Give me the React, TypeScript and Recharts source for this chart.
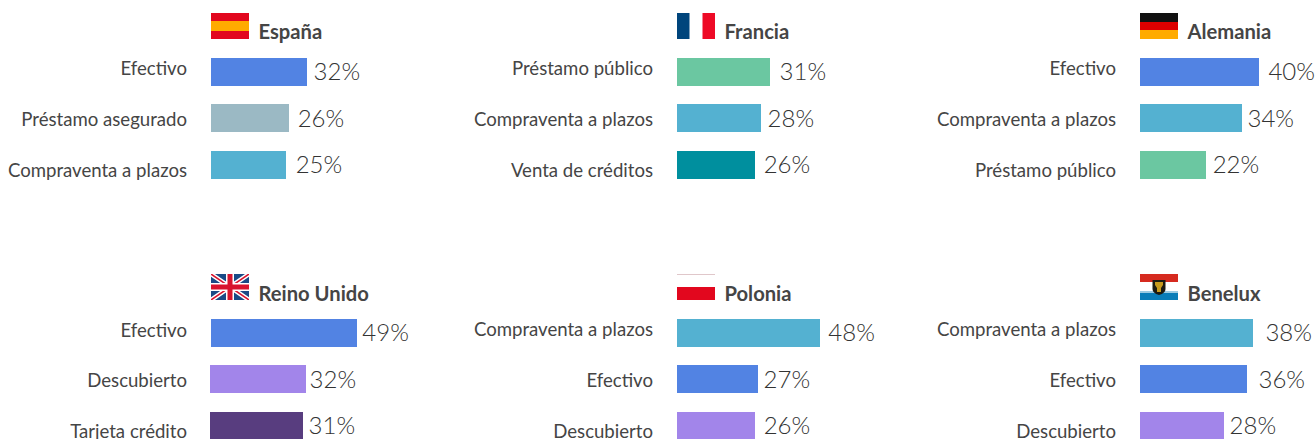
import React from "react";
import { BarChart, Bar, XAxis, YAxis, LabelList } from "recharts";

const espanaCategories = ["Efectivo", "Préstamo asegurado", "Compraventa a plazos"];
const espanaValues = [32, 26, 25];
const franciaCategories = ["Préstamo público", "Compraventa a plazos", "Venta de créditos"];
const franciaValues = [31, 28, 26];
const alemaniaCategories = ["Efectivo", "Compraventa a plazos", "Préstamo público"];
const alemaniaValues = [40, 34, 22];
const reinoUnidoCategories = ["Efectivo", "Descubierto", "Tarjeta crédito"];
const reinoUnidoValues = [49, 32, 31];
const poloniaCategories = ["Compraventa a plazos", "Efectivo", "Descubierto"];
const poloniaValues = [48, 27, 26];
const beneluxCategories = ["Compraventa a plazos", "Efectivo", "Descubierto"];
const beneluxValues = [38, 36, 28];

const categoryColors: Record<string, string> = {
  "Efectivo": "#5283E3",
  "Préstamo asegurado": "#9BB9C4",
  "Compraventa a plazos": "#54B1D1",
  "Préstamo público": "#6BC7A1",
  "Venta de créditos": "#008F9E",
  "Descubierto": "#A285EA",
  "Tarjeta crédito": "#583D7F",
};

const FONT = "Lato, sans-serif";
const TEXT = "#454545";
const VALUE_TEXT = "#333333";
const PLOT_WIDTH = 209;
const AXIS_WIDTH = 211;

type FlagKind = "es" | "fr" | "de" | "uk" | "pl" | "bnl";

const panels: {
  title: string; flag: FlagKind; categories: string[]; values: number[];
  left: number; top: number; titleDy: number; tickShift: number[]; gaps: number[]; barShift: number[];
}[] = [
  { title: "España", flag: "es", categories: espanaCategories, values: espanaValues, left: 0, top: 48, titleDy: 0, tickShift: [-4, 0.5, 5], gaps: [7, 9, 10], barShift: [0, 0, 0] },
  { title: "Francia", flag: "fr", categories: franciaCategories, values: franciaValues, left: 466, top: 48, titleDy: 0, tickShift: [-4, 0.5, 5], gaps: [10, 7, 9], barShift: [0, 0, 0] },
  { title: "Alemania", flag: "de", categories: alemaniaCategories, values: alemaniaValues, left: 929, top: 48, titleDy: 0, tickShift: [-4, 0.5, 5], gaps: [9, 6, 7], barShift: [0, 0, 0] },
  { title: "Reino Unido", flag: "uk", categories: reinoUnidoCategories, values: reinoUnidoValues, left: 0, top: 309, titleDy: 0.5, tickShift: [-3.5, 0.5, 5], gaps: [5, 4, 6], barShift: [0, -1, -1] },
  { title: "Polonia", flag: "pl", categories: poloniaCategories, values: poloniaValues, left: 466, top: 309, titleDy: 0.5, tickShift: [-4, 0.5, 5], gaps: [8, 6, 9], barShift: [0, 0, 0] },
  { title: "Benelux", flag: "bnl", categories: beneluxCategories, values: beneluxValues, left: 929, top: 309, titleDy: 0.5, tickShift: [-4, 0.5, 5], gaps: [12, 11, 6], barShift: [0, 0, 0] },
];

function Flag({ kind }: { kind: FlagKind }) {
  const body = (() => {
    switch (kind) {
      case "es":
        return (<><rect width="38" height="26" fill="#E2071E" /><rect y="8" width="38" height="10" fill="#FFAB00" /></>);
      case "fr":
        return (<><rect width="12.5" height="26" fill="#00457C" /><rect x="25.5" width="12.5" height="26" fill="#EE0A26" /></>);
      case "de":
        return (<><rect width="38" height="9" fill="#111" /><rect y="9" width="38" height="8" fill="#DD0000" /><rect y="17" width="38" height="9" fill="#FFAB00" /></>);
      case "uk":
        return (
          <>
            <rect width="38" height="26" fill="#1A4A86" />
            <path d="M0 0L38 26M38 0L0 26" stroke="#fff" strokeWidth="4.5" />
            <path d="M0 0L38 26M38 0L0 26" stroke="#D8142E" strokeWidth="1.5" />
            <path d="M19 0V26M0 13H38" stroke="#fff" strokeWidth="8" />
            <path d="M19 0V26M0 13H38" stroke="#D8142E" strokeWidth="5" />
          </>
        );
      case "pl":
        return (<><rect width="38" height="13" fill="#fff" /><rect width="38" height="0.8" fill="#D9B9BD" /><rect y="13" width="38" height="13" fill="#E2071E" /></>);
      case "bnl":
        return (
          <>
            <rect width="38" height="8" fill="#D62A1F" />
            <rect y="8" width="38" height="9" fill="#fff" />
            <rect y="17" width="38" height="2" fill="#9CCBE2" />
            <rect y="19" width="38" height="7" fill="#0A7DB8" />
            <path d="M12.5 6H25.5V15Q25.5 19 19 21Q12.5 19 12.5 15Z" fill="#1C1A12" />
            <path d="M15 8H23V11L21 14V18H17V14L15 11Z" fill="#C79A1E" />
          </>
        );
    }
  })();
  return <svg width={38} height={26} style={{ display: "block" }}>{body}</svg>;
}

function Panel({ panel }: { panel: (typeof panels)[number] }) {
  const data = panel.categories.map((name, i) => ({ name, value: panel.values[i] }));
  const flagTop = panel.top - 35;
  return (
    <>
      <div style={{ position: "absolute", left: panel.left + AXIS_WIDTH, top: flagTop }}>
        <Flag kind={panel.flag} />
      </div>
      <div
        style={{
          position: "absolute", left: panel.left + AXIS_WIDTH + 47.5, top: flagTop + 6 + panel.titleDy, height: 24, lineHeight: "24px",
          font: `700 20.2px ${FONT}`, color: TEXT, whiteSpace: "nowrap",
        }}
      >
        {panel.title}
      </div>
      <div style={{ position: "absolute", left: panel.left, top: panel.top }}>
        <BarChart
          width={AXIS_WIDTH + PLOT_WIDTH}
          height={189}
          data={data}
          layout="vertical"
          margin={{ top: 1, right: 0, bottom: 48.5, left: 0 }}
          barCategoryGap={18.5}
          style={{ overflow: "visible" }}
        >
          <XAxis type="number" domain={[0, 70]} hide />
          <YAxis
            type="category"
            dataKey="name"
            width={AXIS_WIDTH}
            axisLine={false}
            tickLine={false}
            interval={0}
            tick={(p: any) => (
              <text
                x={AXIS_WIDTH - 24}
                y={p.y + panel.tickShift[p.index]}
                textAnchor="end"
                dominantBaseline="central"
                fontFamily={FONT}
                fontSize={18.6}
                fill={TEXT}
              >
                {p.payload.value}
              </text>
            )}
          />
          <Bar
            dataKey="value"
            barSize={28}
            isAnimationActive={false}
            shape={(p: any) => (
              <rect
                x={Math.round(p.x) + panel.barShift[p.index]}
                y={Math.floor(p.y)}
                width={Math.round(p.width)}
                height={28}
                fill={categoryColors[p.name ?? p.payload.name]}
              />
            )}
          >
            <LabelList
              dataKey="value"
              content={(p: any) => (
                <text
                  x={p.x + p.width + panel.gaps[p.index] + panel.barShift[p.index]}
                  y={p.y + p.height / 2 - 1.5}
                  dominantBaseline="central"
                  fontFamily={FONT}
                  fontWeight={300}
                  fontSize={24}
                  fill={VALUE_TEXT}
                >
                  {p.value}%
                </text>
              )}
            />
          </Bar>
        </BarChart>
      </div>
    </>
  );
}

export default function App() {
  return (
    <div style={{ position: "fixed", left: 0, top: 0, width: 1316, height: 439, overflow: "hidden", background: "#fff" }}>
      {panels.map((panel) => (
        <Panel key={panel.title} panel={panel} />
      ))}
    </div>
  );
}
